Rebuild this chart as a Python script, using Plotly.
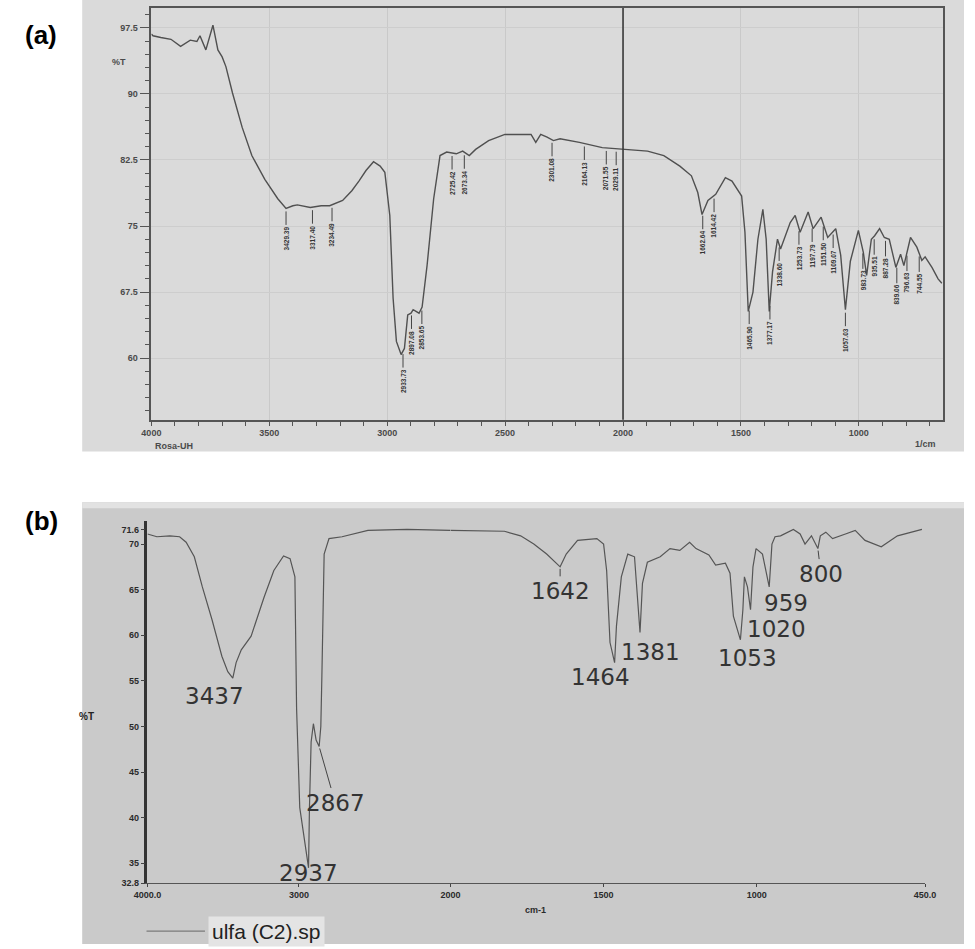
import plotly.graph_objects as go
import numpy as np

# ---------------- DATA ----------------
# Panel (a): FTIR spectrum, %T vs wavenumber (1/cm)
a_wn = [4000, 3993, 3960, 3917, 3876, 3850, 3835, 3807, 3794, 3769, 3739, 3718, 3700, 3684,
        3656, 3615, 3574, 3519, 3464, 3429, 3400, 3381, 3326, 3280, 3244, 3189, 3150, 3120,
        3090, 3058, 3030, 3010, 2989, 2975, 2961, 2941, 2927, 2913, 2899, 2890, 2865, 2852,
        2831, 2803, 2776, 2748, 2707, 2680, 2652, 2625, 2570, 2501, 2431, 2390, 2370, 2349,
        2322, 2295, 2267, 2185, 2088, 1992, 1896, 1827, 1759, 1710, 1683, 1665, 1648, 1640,
        1607, 1566, 1538, 1497, 1483, 1469, 1449, 1428, 1407, 1393, 1380, 1366, 1345, 1332,
        1291, 1270, 1249, 1215, 1194, 1160, 1132, 1098, 1077, 1057, 1036, 1002, 981, 967,
        947, 933, 912, 892, 871, 843, 823, 809, 781, 754, 733, 719, 690, 664, 648]
a_T = [96.8, 96.6, 96.4, 96.2, 95.4, 95.9, 96.1, 95.95, 96.6, 95.0, 97.8, 95.0, 94.2, 93.1,
       90.1, 86.2, 83.0, 80.3, 78.1, 77.0, 77.3, 77.4, 77.1, 77.3, 77.3, 77.9, 79.0, 80.1,
       81.3, 82.3, 81.8, 81.1, 76.2, 66.8, 61.9, 60.4, 61.1, 64.9, 65.1, 65.5, 65.1, 65.8,
       70.5, 78.1, 83.0, 83.4, 83.2, 83.5, 83.0, 83.7, 84.7, 85.4, 85.4, 85.4, 84.5, 85.4,
       85.1, 84.7, 84.9, 84.5, 83.9, 83.7, 83.5, 83.0, 81.8, 80.7, 78.8, 76.3, 77.5, 77.9,
       78.6, 80.5, 80.1, 78.4, 74.3, 65.3, 67.5, 73.5, 76.9, 73.5, 65.3, 69.8, 73.5, 72.4,
       75.4, 76.2, 74.3, 76.6, 74.7, 76.0, 73.7, 74.7, 71.7, 65.5, 71.0, 74.5, 72.0, 69.4,
       73.5, 73.9, 74.7, 73.7, 73.5, 70.3, 71.8, 70.5, 73.7, 72.6, 71.1, 71.5, 70.3, 69.0, 68.5]
a_label_wn = [3429, 3317, 3234, 2933, 2897, 2853, 2725, 2673, 2301, 2164, 2071, 2029,
              1662, 1614, 1465, 1377, 1338, 1254, 1198, 1151, 1109, 1057, 983, 935,
              887, 839, 796, 744]
a_label_text = ["3429.39", "3317.40", "3234.49", "2933.73", "2897.08", "2853.65", "2725.42",
                "2673.34", "2301.08", "2164.13", "2071.55", "2029.11", "1662.64", "1614.42",
                "1465.90", "1377.17", "1338.60", "1253.73", "1197.79", "1151.50", "1109.07",
                "1057.03", "983.73", "935.51", "887.28", "839.06", "796.63", "744.55"]
a_xticks = [4000, 3500, 3000, 2500, 2000, 1500, 1000]
a_yticks = [60, 67.5, 75, 82.5, 90, 97.5]

# Panel (b): FTIR spectrum "ulfa (C2).sp"
b_wn = [4000, 3938, 3852, 3788, 3745, 3691, 3638, 3574, 3509, 3470, 3437, 3415, 3381, 3316,
        3230, 3166, 3102, 3059, 3027, 3016, 2995, 2963, 2937, 2931, 2920, 2905, 2887, 2867,
        2856, 2849, 2834, 2802, 2716, 2545, 2287, 2000,
        1824, 1771, 1728, 1686, 1642, 1622, 1585, 1522, 1500, 1490, 1479, 1464, 1458, 1442,
        1421, 1399, 1381, 1373, 1357, 1315, 1283, 1251, 1219, 1198, 1156, 1134, 1102, 1087,
        1076, 1053, 1045, 1040, 1030, 1020, 1012, 1002, 981, 959, 950, 940, 922, 880, 858,
        842, 821, 800, 792, 774, 752, 710, 678, 646, 593, 540, 460]
b_T = [71.1, 70.8, 70.9, 70.8, 70.2, 68.6, 65.3, 61.7, 57.7, 56.0, 55.3, 57.0, 58.4, 59.9,
       64.2, 67.1, 68.7, 68.4, 66.4, 52.0, 41.1, 37.4, 34.5, 41.1, 48.3, 50.3, 48.5, 47.8,
       50.0, 55.5, 68.9, 70.6, 70.8, 71.5, 71.6, 71.5,
       71.4, 70.9, 70.0, 68.9, 67.5, 68.9, 70.4, 70.6, 70.0, 67.1, 59.2, 57.0, 61.0, 66.4,
       68.9, 68.6, 60.3, 65.7, 68.0, 68.6, 69.5, 69.3, 70.2, 69.5, 68.8, 67.7, 67.9, 66.8,
       62.1, 59.5, 62.8, 66.4, 65.3, 62.8, 67.5, 69.5, 68.9, 65.3, 70.0, 70.8, 70.9, 71.6, 71.1,
       70.0, 70.9, 69.5, 70.9, 71.3, 70.6, 71.1, 71.5, 70.4, 69.7, 70.9, 71.6]
b_peaks = [3437, 2937, 2867, 1642, 1464, 1381, 1053, 1020, 959, 800]
b_yticks = [32.8, 35, 40, 45, 50, 55, 60, 65, 70, 71.6]
b_xticks_left = [4000, 3000, 2000]
b_xtext_left = ["4000.0", "3000", "2000"]
b_xticks_right = [1500, 1000, 450]
b_xtext_right = ["1500", "1000", "450.0"]

# ---------------- LAYOUT HELPERS ----------------
W, H = 975, 949
def fx(px):
    return px / W
def fy(py):
    return 1 - py / H

# label offsets (pixels) for panel (b) peak labels: (dx, dy, leader)
b_label_style = [(-18, 18, False), (0, 5, False), (16, 56, True), (0, 24, True),
                 (-14, 14, True), (10, 19, False), (7, 18, False), (26, 19, False),
                 (17, 16, False), (3, 25, True)]

fig = go.Figure()

fig.add_trace(go.Scatter(x=a_wn, y=a_T, mode="lines", xaxis="x", yaxis="y",
                         line=dict(color="#505050", width=1.4), showlegend=False,
                         hoverinfo="skip"))

b_wn_arr = np.array(b_wn)
b_T_arr = np.array(b_T)
left = b_wn_arr >= 2000
right = b_wn_arr <= 2000
fig.add_trace(go.Scatter(x=b_wn_arr[left], y=b_T_arr[left], mode="lines", xaxis="x2", yaxis="y2",
                         line=dict(color="#555555", width=1.2), showlegend=False))
fig.add_trace(go.Scatter(x=b_wn_arr[right], y=b_T_arr[right], mode="lines", xaxis="x3", yaxis="y2",
                         line=dict(color="#555555", width=1.2), showlegend=False))

tickfont_a = dict(family="Liberation Sans", size=9, color="#4a4a4a", weight="bold")
tickfont_b = dict(family="Liberation Sans", size=9, color="#2a2a2a", weight="bold")

layout = dict(
    width=W, height=H, margin=dict(l=0, r=0, t=0, b=0),
    paper_bgcolor="white", plot_bgcolor="rgba(0,0,0,0)",
    xaxis=dict(domain=[fx(141), fx(953)], range=[4000, 645], anchor="y",
               tickvals=a_xticks, ticks="outside", ticklen=4, tickcolor="#555",
               minor=dict(dtick=100, tick0=0, ticklen=4, tickcolor="#555", ticks="outside"),
               showline=True, linecolor="#555", linewidth=1.5, mirror=True,
               showgrid=True, gridcolor="#c9c9c9", gridwidth=1, zeroline=False,
               tickfont=tickfont_a),
    yaxis=dict(domain=[fy(422), fy(8)], range=[53.0, 99.76], anchor="x",
               tickvals=a_yticks, ticks="outside", ticklen=10, tickcolor="#555",
               minor=dict(dtick=1.5, tick0=60, ticklen=5, tickcolor="#555", ticks="outside"),
               showline=True, linecolor="#555", linewidth=1.5, mirror=True,
               showgrid=True, gridcolor="#cdcdcd", gridwidth=1, zeroline=False,
               tickfont=tickfont_a),
    xaxis2=dict(domain=[fx(137), fx(448)], range=[4000, 2000], anchor="y2",
                tickvals=b_xticks_left, ticktext=b_xtext_left, ticks="outside", ticklen=3,
                tickcolor="#444", showline=True, linecolor="#555", linewidth=1.2,
                showgrid=False, zeroline=False, tickfont=tickfont_b),
    xaxis3=dict(domain=[fx(448), fx(935)], range=[2000, 450], anchor="y2",
                tickvals=b_xticks_right, ticktext=b_xtext_right, ticks="outside", ticklen=3,
                tickcolor="#444", showline=True, linecolor="#555", linewidth=1.2,
                showgrid=False, zeroline=False, tickfont=tickfont_b),
    yaxis2=dict(domain=[fy(888), fy(524)], range=[32.8, 72.5], anchor="x2",
                tickvals=b_yticks, ticktext=[str(v) for v in b_yticks], ticks="outside",
                ticklen=4, tickcolor="#444", showline=True, linecolor="#333", linewidth=2.5,
                showgrid=False, zeroline=False, tickfont=tickfont_b),
    showlegend=False,
)
fig.update_layout(**layout)

shapes = [
    dict(type="rect", xref="paper", yref="paper", x0=fx(70), x1=1, y0=fy(454), y1=fy(0),
         fillcolor="#dadada", line=dict(width=0), layer="below"),
    dict(type="rect", xref="paper", yref="paper", x0=fx(70), x1=1, y0=0, y1=fy(505),
         fillcolor="#cacaca", line=dict(width=0), layer="below"),
    dict(type="rect", xref="paper", yref="paper", x0=fx(70), x1=1, y0=fy(511), y1=fy(505),
         fillcolor="#e2e2e2", line=dict(width=0), layer="below"),
    dict(type="line", xref="x", yref="y domain", x0=2000, x1=2000, y0=0, y1=1,
         line=dict(color="#3a3a3a", width=1.6), layer="above"),
    # legend sample line
    dict(type="line", xref="paper", yref="paper", x0=fx(136), x1=fx(196), y0=fy(936), y1=fy(936),
         line=dict(color="#7a7a7a", width=1.2)),
]

ann = []
# panel letters
ann.append(dict(text="(a)", xref="paper", yref="paper", x=fx(9), y=fy(35), xanchor="left",
                yanchor="middle", showarrow=False,
                font=dict(family="Liberation Sans", size=26, color="black", weight="bold")))
ann.append(dict(text="(b)", xref="paper", yref="paper", x=fx(9), y=fy(524), xanchor="left",
                yanchor="middle", showarrow=False,
                font=dict(family="Liberation Sans", size=26, color="black", weight="bold")))
# panel (a) extra axis texts
ann.append(dict(text="%T", xref="paper", yref="paper", x=fx(117), y=fy(62), xanchor="right",
                yanchor="middle", showarrow=False, font=tickfont_a))
ann.append(dict(text="Rosa-UH", xref="paper", yref="paper", x=fx(143), y=fy(448), xanchor="left",
                yanchor="middle", showarrow=False, font=tickfont_a))
ann.append(dict(text="1/cm", xref="paper", yref="paper", x=fx(948), y=fy(446), xanchor="right",
                yanchor="middle", showarrow=False, font=tickfont_a))
# panel (b) extra texts
ann.append(dict(text="%T", xref="paper", yref="paper", x=fx(84), y=fy(720), xanchor="right",
                yanchor="middle", showarrow=False,
                font=dict(family="Liberation Sans", size=10, color="#222", weight="bold")))
ann.append(dict(text="cm-1", xref="paper", yref="paper", x=fx(535), y=fy(915), xanchor="center",
                yanchor="middle", showarrow=False, font=tickfont_b))
ann.append(dict(text="ulfa (C2).sp", xref="paper", yref="paper", x=fx(199), y=fy(936),
                xanchor="left", yanchor="middle", showarrow=False, bgcolor="#e4e4e4",
                borderpad=3, font=dict(family="Liberation Sans", size=21, color="#222")))

# panel (a) rotated peak labels
for wn, txt in zip(a_label_wn, a_label_text):
    yv = float(np.interp(-wn, -np.array(a_wn), np.array(a_T)))
    ann.append(dict(text=txt, x=wn, y=yv, xref="x", yref="y", showarrow=True,
                    arrowhead=0, arrowwidth=1, arrowcolor="#444", ax=0, ay=30, standoff=3,
                    textangle=-90, font=dict(family="Liberation Sans", size=6.5,
                                             color="#333", weight="bold")))

# panel (b) peak labels
for wn, (dx, dy, lead) in zip(b_peaks, b_label_style):
    yv = float(np.interp(-wn, -b_wn_arr, b_T_arr))
    xref = "x2" if wn > 2000 else "x3"
    base = dict(text=str(wn), x=wn, y=yv, xref=xref, yref="y2",
                font=dict(family="DejaVu Sans", size=23, color="#333"))
    if lead:
        base.update(showarrow=True, arrowhead=0, arrowwidth=1, arrowcolor="#444",
                    ax=dx, ay=dy, standoff=2)
    else:
        base.update(showarrow=False, xshift=dx, yshift=-dy)
    ann.append(base)

fig.update_layout(shapes=shapes, annotations=ann)
fig.write_html("out.html")
